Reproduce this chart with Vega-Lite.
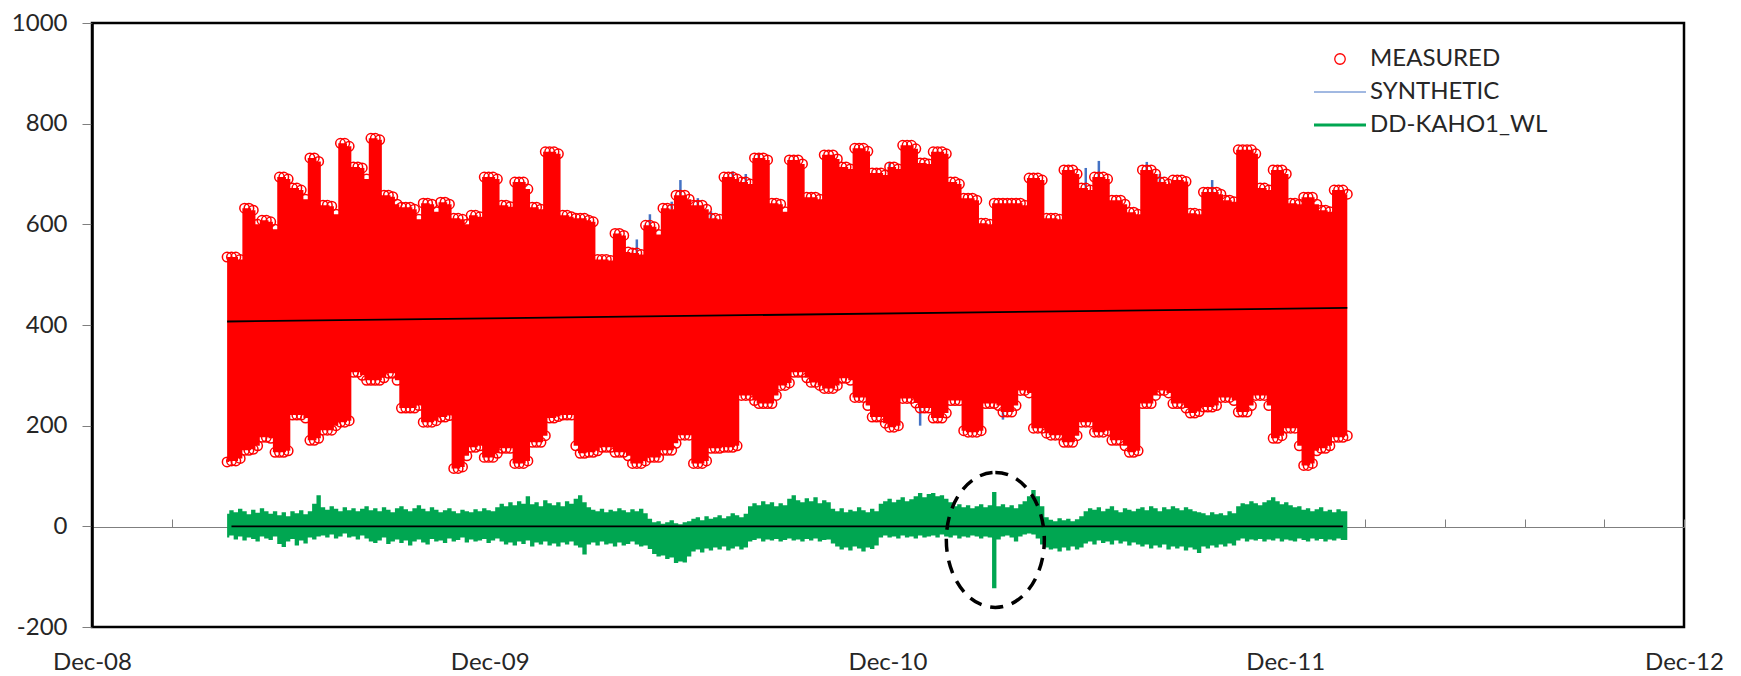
{
"$schema": "https://vega.github.io/schema/vega-lite/v6.json",
"width": 1592, "height": 604,
"autosize": {"type": "none"},
"padding": {"left": 92, "top": 23, "right": 57, "bottom": 49},
"background": "#ffffff",
"config": {"font": "Lato", "view": {"stroke": "#000000", "strokeWidth": 2.5}},
"datasets": {
"m": [
{"d":"2009-04-04","hi":535,"lo":128,"rh":25,"rl":-22},
{"d":"2009-04-08","hi":535,"lo":130,"rh":32,"rl":-18},
{"d":"2009-04-12","hi":535,"lo":130,"rh":28,"rl":-26},
{"d":"2009-04-16","hi":530,"lo":135,"rh":35,"rl":-20},
{"d":"2009-04-20","hi":632,"lo":151,"rh":30,"rl":-28},
{"d":"2009-04-24","hi":632,"lo":151,"rh":24,"rl":-22},
{"d":"2009-04-28","hi":628,"lo":153,"rh":33,"rl":-25},
{"d":"2009-05-02","hi":600,"lo":160,"rh":27,"rl":-30},
{"d":"2009-05-06","hi":608,"lo":177,"rh":36,"rl":-20},
{"d":"2009-05-10","hi":608,"lo":177,"rh":30,"rl":-24},
{"d":"2009-05-14","hi":605,"lo":175,"rh":25,"rl":-27},
{"d":"2009-05-18","hi":590,"lo":147,"rh":30,"rl":-20},
{"d":"2009-05-22","hi":694,"lo":147,"rh":22,"rl":-35},
{"d":"2009-05-26","hi":694,"lo":147,"rh":28,"rl":-41},
{"d":"2009-05-30","hi":690,"lo":150,"rh":20,"rl":-30},
{"d":"2009-06-03","hi":672,"lo":221,"rh":30,"rl":-25},
{"d":"2009-06-07","hi":672,"lo":221,"rh":26,"rl":-38},
{"d":"2009-06-11","hi":668,"lo":221,"rh":32,"rl":-28},
{"d":"2009-06-15","hi":650,"lo":215,"rh":24,"rl":-34},
{"d":"2009-06-19","hi":732,"lo":171,"rh":30,"rl":-22},
{"d":"2009-06-23","hi":732,"lo":171,"rh":45,"rl":-26},
{"d":"2009-06-27","hi":725,"lo":175,"rh":62,"rl":-20},
{"d":"2009-07-01","hi":638,"lo":191,"rh":38,"rl":-18},
{"d":"2009-07-05","hi":638,"lo":191,"rh":33,"rl":-22},
{"d":"2009-07-09","hi":636,"lo":191,"rh":40,"rl":-16},
{"d":"2009-07-13","hi":620,"lo":200,"rh":35,"rl":-24},
{"d":"2009-07-17","hi":761,"lo":207,"rh":30,"rl":-20},
{"d":"2009-07-21","hi":761,"lo":207,"rh":38,"rl":-14},
{"d":"2009-07-25","hi":755,"lo":210,"rh":32,"rl":-22},
{"d":"2009-07-29","hi":714,"lo":306,"rh":36,"rl":-20},
{"d":"2009-08-02","hi":714,"lo":306,"rh":30,"rl":-26},
{"d":"2009-08-06","hi":712,"lo":300,"rh":35,"rl":-18},
{"d":"2009-08-10","hi":690,"lo":290,"rh":40,"rl":-24},
{"d":"2009-08-14","hi":771,"lo":290,"rh":32,"rl":-30},
{"d":"2009-08-18","hi":771,"lo":290,"rh":36,"rl":-33},
{"d":"2009-08-22","hi":768,"lo":290,"rh":30,"rl":-28},
{"d":"2009-08-26","hi":658,"lo":295,"rh":38,"rl":-22},
{"d":"2009-08-30","hi":658,"lo":304,"rh":33,"rl":-35},
{"d":"2009-09-03","hi":655,"lo":304,"rh":28,"rl":-30},
{"d":"2009-09-07","hi":640,"lo":290,"rh":36,"rl":-26},
{"d":"2009-09-11","hi":634,"lo":235,"rh":40,"rl":-33},
{"d":"2009-09-15","hi":634,"lo":235,"rh":34,"rl":-28},
{"d":"2009-09-19","hi":634,"lo":235,"rh":30,"rl":-38},
{"d":"2009-09-23","hi":630,"lo":235,"rh":36,"rl":-30},
{"d":"2009-09-27","hi":610,"lo":240,"rh":42,"rl":-26},
{"d":"2009-10-01","hi":642,"lo":207,"rh":35,"rl":-32},
{"d":"2009-10-05","hi":642,"lo":207,"rh":30,"rl":-36},
{"d":"2009-10-09","hi":640,"lo":207,"rh":38,"rl":-25},
{"d":"2009-10-13","hi":625,"lo":210,"rh":33,"rl":-30},
{"d":"2009-10-17","hi":644,"lo":217,"rh":28,"rl":-28},
{"d":"2009-10-21","hi":644,"lo":217,"rh":32,"rl":-33},
{"d":"2009-10-25","hi":640,"lo":220,"rh":36,"rl":-24},
{"d":"2009-10-29","hi":612,"lo":115,"rh":30,"rl":-30},
{"d":"2009-11-02","hi":612,"lo":115,"rh":26,"rl":-27},
{"d":"2009-11-06","hi":610,"lo":118,"rh":33,"rl":-22},
{"d":"2009-11-10","hi":600,"lo":140,"rh":30,"rl":-32},
{"d":"2009-11-14","hi":618,"lo":157,"rh":28,"rl":-26},
{"d":"2009-11-18","hi":618,"lo":157,"rh":34,"rl":-30},
{"d":"2009-11-22","hi":615,"lo":160,"rh":30,"rl":-28},
{"d":"2009-11-26","hi":694,"lo":137,"rh":36,"rl":-25},
{"d":"2009-11-30","hi":694,"lo":137,"rh":32,"rl":-33},
{"d":"2009-12-04","hi":694,"lo":137,"rh":30,"rl":-28},
{"d":"2009-12-08","hi":690,"lo":145,"rh":38,"rl":-24},
{"d":"2009-12-12","hi":638,"lo":155,"rh":45,"rl":-30},
{"d":"2009-12-16","hi":638,"lo":155,"rh":40,"rl":-36},
{"d":"2009-12-20","hi":635,"lo":155,"rh":48,"rl":-32},
{"d":"2009-12-24","hi":684,"lo":125,"rh":42,"rl":-38},
{"d":"2009-12-28","hi":684,"lo":125,"rh":50,"rl":-30},
{"d":"2010-01-01","hi":684,"lo":125,"rh":45,"rl":-35},
{"d":"2010-01-05","hi":670,"lo":130,"rh":60,"rl":-28},
{"d":"2010-01-09","hi":634,"lo":167,"rh":44,"rl":-40},
{"d":"2010-01-13","hi":634,"lo":167,"rh":48,"rl":-32},
{"d":"2010-01-17","hi":630,"lo":167,"rh":40,"rl":-36},
{"d":"2010-01-21","hi":744,"lo":180,"rh":52,"rl":-30},
{"d":"2010-01-25","hi":744,"lo":215,"rh":46,"rl":-38},
{"d":"2010-01-29","hi":744,"lo":215,"rh":42,"rl":-34},
{"d":"2010-02-02","hi":740,"lo":218,"rh":48,"rl":-40},
{"d":"2010-02-06","hi":618,"lo":221,"rh":40,"rl":-32},
{"d":"2010-02-10","hi":618,"lo":221,"rh":50,"rl":-36},
{"d":"2010-02-14","hi":615,"lo":221,"rh":45,"rl":-30},
{"d":"2010-02-18","hi":612,"lo":160,"rh":55,"rl":-38},
{"d":"2010-02-22","hi":612,"lo":145,"rh":62,"rl":-42},
{"d":"2010-02-26","hi":612,"lo":145,"rh":48,"rl":-56},
{"d":"2010-03-02","hi":608,"lo":147,"rh":38,"rl":-36},
{"d":"2010-03-06","hi":605,"lo":147,"rh":33,"rl":-32},
{"d":"2010-03-10","hi":530,"lo":150,"rh":30,"rl":-38},
{"d":"2010-03-14","hi":530,"lo":157,"rh":35,"rl":-30},
{"d":"2010-03-18","hi":530,"lo":157,"rh":28,"rl":-36},
{"d":"2010-03-22","hi":528,"lo":157,"rh":33,"rl":-34},
{"d":"2010-03-26","hi":582,"lo":147,"rh":30,"rl":-40},
{"d":"2010-03-30","hi":582,"lo":147,"rh":36,"rl":-32},
{"d":"2010-04-03","hi":578,"lo":147,"rh":32,"rl":-38},
{"d":"2010-04-07","hi":545,"lo":140,"rh":28,"rl":-35},
{"d":"2010-04-11","hi":543,"lo":125,"rh":34,"rl":-30},
{"d":"2010-04-15","hi":543,"lo":125,"rh":30,"rl":-36},
{"d":"2010-04-19","hi":540,"lo":125,"rh":35,"rl":-40},
{"d":"2010-04-23","hi":598,"lo":130,"rh":26,"rl":-38},
{"d":"2010-04-27","hi":598,"lo":137,"rh":15,"rl":-45},
{"d":"2010-05-01","hi":595,"lo":137,"rh":8,"rl":-55},
{"d":"2010-05-05","hi":580,"lo":137,"rh":10,"rl":-60},
{"d":"2010-05-09","hi":632,"lo":151,"rh":5,"rl":-58},
{"d":"2010-05-13","hi":632,"lo":151,"rh":8,"rl":-65},
{"d":"2010-05-17","hi":630,"lo":151,"rh":12,"rl":-62},
{"d":"2010-05-21","hi":658,"lo":165,"rh":6,"rl":-73},
{"d":"2010-05-25","hi":658,"lo":181,"rh":4,"rl":-70},
{"d":"2010-05-29","hi":658,"lo":181,"rh":8,"rl":-72},
{"d":"2010-06-02","hi":650,"lo":181,"rh":10,"rl":-60},
{"d":"2010-06-06","hi":638,"lo":125,"rh":15,"rl":-50},
{"d":"2010-06-10","hi":638,"lo":125,"rh":18,"rl":-46},
{"d":"2010-06-14","hi":638,"lo":125,"rh":12,"rl":-52},
{"d":"2010-06-18","hi":630,"lo":130,"rh":20,"rl":-44},
{"d":"2010-06-22","hi":612,"lo":155,"rh":15,"rl":-48},
{"d":"2010-06-26","hi":612,"lo":155,"rh":18,"rl":-42},
{"d":"2010-06-30","hi":610,"lo":155,"rh":22,"rl":-46},
{"d":"2010-07-04","hi":694,"lo":157,"rh":16,"rl":-40},
{"d":"2010-07-08","hi":694,"lo":157,"rh":20,"rl":-48},
{"d":"2010-07-12","hi":694,"lo":157,"rh":26,"rl":-44},
{"d":"2010-07-16","hi":690,"lo":160,"rh":22,"rl":-40},
{"d":"2010-07-20","hi":684,"lo":260,"rh":18,"rl":-46},
{"d":"2010-07-24","hi":684,"lo":260,"rh":25,"rl":-42},
{"d":"2010-07-28","hi":680,"lo":260,"rh":40,"rl":-30},
{"d":"2010-08-01","hi":732,"lo":250,"rh":46,"rl":-27},
{"d":"2010-08-05","hi":732,"lo":244,"rh":42,"rl":-24},
{"d":"2010-08-09","hi":732,"lo":244,"rh":50,"rl":-30},
{"d":"2010-08-13","hi":728,"lo":244,"rh":44,"rl":-26},
{"d":"2010-08-17","hi":642,"lo":244,"rh":48,"rl":-28},
{"d":"2010-08-21","hi":642,"lo":260,"rh":40,"rl":-25},
{"d":"2010-08-25","hi":640,"lo":280,"rh":46,"rl":-30},
{"d":"2010-08-29","hi":625,"lo":280,"rh":42,"rl":-27},
{"d":"2010-09-02","hi":728,"lo":285,"rh":55,"rl":-24},
{"d":"2010-09-06","hi":728,"lo":306,"rh":62,"rl":-28},
{"d":"2010-09-10","hi":728,"lo":306,"rh":52,"rl":-26},
{"d":"2010-09-14","hi":720,"lo":306,"rh":48,"rl":-30},
{"d":"2010-09-18","hi":654,"lo":295,"rh":56,"rl":-25},
{"d":"2010-09-22","hi":654,"lo":286,"rh":50,"rl":-28},
{"d":"2010-09-26","hi":654,"lo":286,"rh":58,"rl":-24},
{"d":"2010-09-30","hi":650,"lo":280,"rh":46,"rl":-30},
{"d":"2010-10-04","hi":738,"lo":274,"rh":52,"rl":-27},
{"d":"2010-10-08","hi":738,"lo":274,"rh":48,"rl":-26},
{"d":"2010-10-12","hi":738,"lo":274,"rh":35,"rl":-34},
{"d":"2010-10-16","hi":730,"lo":280,"rh":30,"rl":-40},
{"d":"2010-10-20","hi":714,"lo":294,"rh":36,"rl":-46},
{"d":"2010-10-24","hi":714,"lo":294,"rh":28,"rl":-42},
{"d":"2010-10-28","hi":710,"lo":290,"rh":33,"rl":-48},
{"d":"2010-11-01","hi":751,"lo":256,"rh":30,"rl":-40},
{"d":"2010-11-05","hi":751,"lo":256,"rh":38,"rl":-44},
{"d":"2010-11-09","hi":751,"lo":256,"rh":32,"rl":-50},
{"d":"2010-11-13","hi":745,"lo":240,"rh":28,"rl":-42},
{"d":"2010-11-17","hi":702,"lo":217,"rh":35,"rl":-45},
{"d":"2010-11-21","hi":702,"lo":217,"rh":30,"rl":-38},
{"d":"2010-11-25","hi":702,"lo":217,"rh":45,"rl":-22},
{"d":"2010-11-29","hi":698,"lo":205,"rh":50,"rl":-18},
{"d":"2010-12-03","hi":714,"lo":197,"rh":55,"rl":-22},
{"d":"2010-12-07","hi":714,"lo":197,"rh":48,"rl":-20},
{"d":"2010-12-11","hi":710,"lo":200,"rh":53,"rl":-24},
{"d":"2010-12-15","hi":757,"lo":254,"rh":58,"rl":-18},
{"d":"2010-12-19","hi":757,"lo":254,"rh":50,"rl":-22},
{"d":"2010-12-23","hi":757,"lo":254,"rh":54,"rl":-20},
{"d":"2010-12-27","hi":750,"lo":245,"rh":60,"rl":-24},
{"d":"2010-12-31","hi":722,"lo":235,"rh":66,"rl":-18},
{"d":"2011-01-04","hi":722,"lo":235,"rh":58,"rl":-22},
{"d":"2011-01-08","hi":720,"lo":235,"rh":64,"rl":-20},
{"d":"2011-01-12","hi":744,"lo":215,"rh":66,"rl":-18},
{"d":"2011-01-16","hi":744,"lo":215,"rh":60,"rl":-22},
{"d":"2011-01-20","hi":744,"lo":215,"rh":62,"rl":-16},
{"d":"2011-01-24","hi":740,"lo":225,"rh":55,"rl":-20},
{"d":"2011-01-28","hi":684,"lo":250,"rh":48,"rl":-22},
{"d":"2011-02-01","hi":684,"lo":250,"rh":40,"rl":-18},
{"d":"2011-02-05","hi":680,"lo":250,"rh":44,"rl":-24},
{"d":"2011-02-09","hi":652,"lo":190,"rh":38,"rl":-20},
{"d":"2011-02-13","hi":652,"lo":187,"rh":42,"rl":-22},
{"d":"2011-02-17","hi":652,"lo":187,"rh":36,"rl":-18},
{"d":"2011-02-21","hi":648,"lo":187,"rh":40,"rl":-20},
{"d":"2011-02-25","hi":602,"lo":190,"rh":44,"rl":-24},
{"d":"2011-03-01","hi":602,"lo":244,"rh":38,"rl":-20},
{"d":"2011-03-05","hi":600,"lo":244,"rh":42,"rl":-22},
{"d":"2011-03-09","hi":642,"lo":244,"rh":68,"rl":-123},
{"d":"2011-03-13","hi":642,"lo":240,"rh":40,"rl":-26},
{"d":"2011-03-17","hi":642,"lo":227,"rh":44,"rl":-20},
{"d":"2011-03-21","hi":642,"lo":227,"rh":38,"rl":-18},
{"d":"2011-03-25","hi":642,"lo":227,"rh":42,"rl":-22},
{"d":"2011-03-29","hi":642,"lo":240,"rh":36,"rl":-30},
{"d":"2011-04-02","hi":642,"lo":270,"rh":44,"rl":-20},
{"d":"2011-04-06","hi":638,"lo":270,"rh":50,"rl":-16},
{"d":"2011-04-10","hi":692,"lo":265,"rh":60,"rl":-14},
{"d":"2011-04-14","hi":692,"lo":195,"rh":72,"rl":-16},
{"d":"2011-04-18","hi":692,"lo":195,"rh":60,"rl":-24},
{"d":"2011-04-22","hi":688,"lo":195,"rh":40,"rl":-36},
{"d":"2011-04-26","hi":612,"lo":185,"rh":18,"rl":-42},
{"d":"2011-04-30","hi":612,"lo":181,"rh":13,"rl":-46},
{"d":"2011-05-04","hi":612,"lo":181,"rh":10,"rl":-44},
{"d":"2011-05-08","hi":610,"lo":181,"rh":16,"rl":-50},
{"d":"2011-05-12","hi":708,"lo":167,"rh":12,"rl":-42},
{"d":"2011-05-16","hi":708,"lo":167,"rh":15,"rl":-48},
{"d":"2011-05-20","hi":708,"lo":167,"rh":10,"rl":-40},
{"d":"2011-05-24","hi":700,"lo":180,"rh":14,"rl":-46},
{"d":"2011-05-28","hi":672,"lo":207,"rh":20,"rl":-42},
{"d":"2011-06-01","hi":672,"lo":207,"rh":30,"rl":-34},
{"d":"2011-06-05","hi":668,"lo":207,"rh":36,"rl":-30},
{"d":"2011-06-09","hi":694,"lo":187,"rh":33,"rl":-36},
{"d":"2011-06-13","hi":694,"lo":187,"rh":38,"rl":-28},
{"d":"2011-06-17","hi":694,"lo":187,"rh":30,"rl":-33},
{"d":"2011-06-21","hi":690,"lo":190,"rh":35,"rl":-30},
{"d":"2011-06-25","hi":648,"lo":171,"rh":40,"rl":-36},
{"d":"2011-06-29","hi":648,"lo":171,"rh":32,"rl":-28},
{"d":"2011-07-03","hi":648,"lo":171,"rh":28,"rl":-34},
{"d":"2011-07-07","hi":640,"lo":160,"rh":36,"rl":-30},
{"d":"2011-07-11","hi":624,"lo":147,"rh":33,"rl":-38},
{"d":"2011-07-15","hi":624,"lo":147,"rh":30,"rl":-32},
{"d":"2011-07-19","hi":620,"lo":150,"rh":35,"rl":-36},
{"d":"2011-07-23","hi":708,"lo":244,"rh":38,"rl":-40},
{"d":"2011-07-27","hi":708,"lo":244,"rh":32,"rl":-36},
{"d":"2011-07-31","hi":708,"lo":244,"rh":40,"rl":-44},
{"d":"2011-08-04","hi":700,"lo":260,"rh":36,"rl":-38},
{"d":"2011-08-08","hi":684,"lo":270,"rh":30,"rl":-42},
{"d":"2011-08-12","hi":684,"lo":270,"rh":38,"rl":-36},
{"d":"2011-08-16","hi":680,"lo":265,"rh":34,"rl":-46},
{"d":"2011-08-20","hi":688,"lo":244,"rh":40,"rl":-40},
{"d":"2011-08-24","hi":688,"lo":244,"rh":36,"rl":-44},
{"d":"2011-08-28","hi":688,"lo":244,"rh":32,"rl":-40},
{"d":"2011-09-01","hi":685,"lo":235,"rh":38,"rl":-48},
{"d":"2011-09-05","hi":622,"lo":225,"rh":34,"rl":-42},
{"d":"2011-09-09","hi":622,"lo":225,"rh":30,"rl":-46},
{"d":"2011-09-13","hi":620,"lo":228,"rh":28,"rl":-53},
{"d":"2011-09-17","hi":664,"lo":237,"rh":26,"rl":-40},
{"d":"2011-09-21","hi":664,"lo":237,"rh":22,"rl":-44},
{"d":"2011-09-25","hi":664,"lo":237,"rh":28,"rl":-38},
{"d":"2011-09-29","hi":664,"lo":240,"rh":24,"rl":-42},
{"d":"2011-10-03","hi":660,"lo":256,"rh":26,"rl":-36},
{"d":"2011-10-07","hi":648,"lo":256,"rh":22,"rl":-40},
{"d":"2011-10-11","hi":648,"lo":256,"rh":30,"rl":-34},
{"d":"2011-10-15","hi":645,"lo":250,"rh":26,"rl":-38},
{"d":"2011-10-19","hi":748,"lo":227,"rh":40,"rl":-28},
{"d":"2011-10-23","hi":748,"lo":227,"rh":46,"rl":-24},
{"d":"2011-10-27","hi":748,"lo":227,"rh":44,"rl":-30},
{"d":"2011-10-31","hi":748,"lo":240,"rh":50,"rl":-26},
{"d":"2011-11-04","hi":740,"lo":260,"rh":46,"rl":-28},
{"d":"2011-11-08","hi":672,"lo":260,"rh":42,"rl":-25},
{"d":"2011-11-12","hi":672,"lo":260,"rh":48,"rl":-30},
{"d":"2011-11-16","hi":668,"lo":240,"rh":52,"rl":-26},
{"d":"2011-11-20","hi":708,"lo":175,"rh":58,"rl":-28},
{"d":"2011-11-24","hi":708,"lo":175,"rh":50,"rl":-24},
{"d":"2011-11-28","hi":708,"lo":180,"rh":44,"rl":-30},
{"d":"2011-12-02","hi":700,"lo":195,"rh":48,"rl":-26},
{"d":"2011-12-06","hi":642,"lo":195,"rh":42,"rl":-28},
{"d":"2011-12-10","hi":642,"lo":195,"rh":38,"rl":-30},
{"d":"2011-12-14","hi":640,"lo":160,"rh":40,"rl":-24},
{"d":"2011-12-18","hi":654,"lo":121,"rh":33,"rl":-27},
{"d":"2011-12-22","hi":654,"lo":121,"rh":36,"rl":-30},
{"d":"2011-12-26","hi":654,"lo":125,"rh":30,"rl":-24},
{"d":"2011-12-30","hi":640,"lo":150,"rh":34,"rl":-28},
{"d":"2012-01-03","hi":628,"lo":155,"rh":38,"rl":-25},
{"d":"2012-01-07","hi":628,"lo":155,"rh":30,"rl":-30},
{"d":"2012-01-11","hi":625,"lo":160,"rh":33,"rl":-26},
{"d":"2012-01-15","hi":668,"lo":177,"rh":28,"rl":-28},
{"d":"2012-01-19","hi":668,"lo":177,"rh":34,"rl":-24},
{"d":"2012-01-23","hi":668,"lo":177,"rh":30,"rl":-27},
{"d":"2012-01-27","hi":660,"lo":180,"rh":30,"rl":-27}
],
"syn": [
{"d":"2010-04-15","a":543,"b":570},
{"d":"2010-04-27","a":598,"b":620},
{"d":"2010-05-17","a":630,"b":645},
{"d":"2010-05-25","a":658,"b":688},
{"d":"2010-06-10","a":638,"b":652},
{"d":"2010-06-22","a":612,"b":626},
{"d":"2010-07-12","a":694,"b":705},
{"d":"2010-07-24","a":684,"b":700},
{"d":"2010-08-05","a":732,"b":740},
{"d":"2010-12-03","a":714,"b":722},
{"d":"2011-06-01","a":672,"b":712},
{"d":"2011-06-13","a":694,"b":726},
{"d":"2011-07-27","a":708,"b":724},
{"d":"2011-08-08","a":684,"b":700},
{"d":"2011-09-25","a":664,"b":688},
{"d":"2010-12-31","a":235,"b":200},
{"d":"2011-03-17","a":227,"b":212}
],
"trend": [
{"d":"2009-04-04","v":407,"s":"m"},
{"d":"2012-01-27","v":434,"s":"m"},
{"d":"2009-04-08","v":0,"s":"r"},
{"d":"2012-01-23","v":0,"s":"r"}
],
"note": [{"d":"2011-03-10","v":-27}]
},
"resolve": {"axis": {"x": "independent", "y": "independent"}},
"layer": [
{
"data": {"name": "syn"},
"mark": {"type": "rule", "strokeWidth": 2.5},
"encoding": {
"x": {"field": "d", "type": "temporal", "scale": {"type": "utc", "domain": [{"year":2008,"month":12,"date":1,"utc":true},{"year":2012,"month":12,"date":1,"utc":true}]}, "axis": null},
"y": {"field": "a", "type": "quantitative", "scale": {"domain": [-200, 1000], "nice": false}, "axis": null},
"y2": {"field": "b"},
"color": {"datum": "SYNTHETIC", "type": "nominal", "scale": {"domain": ["MEASURED","SYNTHETIC","DD-KAHO1_WL"], "range": ["#ff0000","#4472c4","#00a651"]},
"legend": {"orient": "none", "legendX": 1236, "legendY": 24, "title": null, "direction": "vertical", "symbolType": "stroke", "symbolSize": 64, "labelFont": "Lato", "labelFontSize": 24, "labelColor": "#262626", "labelOffset": 18, "labelLimit": 400, "rowPadding": 9, "padding": 0,
"encode": {"symbols": {"update": {
"shape": {"signal": "datum.value === 'MEASURED' ? 'circle' : 'stroke'"},
"size": {"signal": "datum.value === 'MEASURED' ? 110 : 2704"},
"strokeWidth": {"signal": "datum.value === 'MEASURED' ? 1.3 : (datum.value === 'SYNTHETIC' ? 1 : 3)"},
"fill": {"value": "#ffffff"},
"fillOpacity": {"value": 0},
"stroke": {"signal": "datum.value === 'MEASURED' ? '#c0392b' : (datum.value === 'SYNTHETIC' ? '#4a5aa8' : '#00a651')"},
"opacity": {"value": 1}}}}}}
}
},
{
"data": {"name": "m"},
"mark": {"type": "area", "interpolate": "step", "opacity": 1},
"encoding": {
"x": {"field": "d", "type": "temporal", "scale": {"type": "utc", "domain": [{"year":2008,"month":12,"date":1,"utc":true},{"year":2012,"month":12,"date":1,"utc":true}]},
"axis": {"orient": "bottom", "title": null, "values": [{"year":2008,"month":12,"date":1,"utc":true},{"year":2009,"month":12,"date":1,"utc":true},{"year":2010,"month":12,"date":1,"utc":true},{"year":2011,"month":12,"date":1,"utc":true},{"year":2012,"month":12,"date":1,"utc":true}],
"format": "%b-%y", "labelFont": "Lato", "labelFontSize": 24, "labelColor": "#262626", "domain": false, "ticks": false, "tickSize": 0, "labelPadding": 23, "grid": false, "labelFlush": false, "labelOverlap": false}},
"y": {"field": "lo", "type": "quantitative", "scale": {"domain": [-200, 1000], "nice": false},
"axis": {"orient": "left", "title": null, "values": [-200,0,200,400,600,800,1000], "labelExpr": "datum.value + ''", "labelFont": "Lato", "labelFontSize": 24, "labelColor": "#262626", "domainColor": "#000000", "domainWidth": 2.5, "tickColor": "#7f7f7f", "tickSize": 10, "labelPadding": 15, "grid": false}},
"y2": {"field": "hi"},
"color": {"datum": "MEASURED", "type": "nominal", "scale": {"domain": ["MEASURED","SYNTHETIC","DD-KAHO1_WL"], "range": ["#ff0000","#4472c4","#00a651"]},
"legend": {"orient": "none", "legendX": 1236, "legendY": 24, "title": null, "direction": "vertical", "symbolType": "stroke", "symbolSize": 64, "labelFont": "Lato", "labelFontSize": 24, "labelColor": "#262626", "labelOffset": 18, "labelLimit": 400, "rowPadding": 9, "padding": 0,
"encode": {"symbols": {"update": {
"shape": {"signal": "datum.value === 'MEASURED' ? 'circle' : 'stroke'"},
"size": {"signal": "datum.value === 'MEASURED' ? 110 : 2704"},
"strokeWidth": {"signal": "datum.value === 'MEASURED' ? 1.3 : (datum.value === 'SYNTHETIC' ? 1 : 3)"},
"fill": {"value": "#ffffff"},
"fillOpacity": {"value": 0},
"stroke": {"signal": "datum.value === 'MEASURED' ? '#c0392b' : (datum.value === 'SYNTHETIC' ? '#4a5aa8' : '#00a651')"},
"opacity": {"value": 1}}}}}}
}
},
{
"data": {"name": "m"},
"transform": [{"fold": ["hi", "lo"], "as": ["k", "v"]}],
"mark": {"type": "point", "filled": false, "size": 90, "strokeWidth": 1.5, "opacity": 1},
"encoding": {
"x": {"field": "d", "type": "temporal", "scale": {"type": "utc", "domain": [{"year":2008,"month":12,"date":1,"utc":true},{"year":2012,"month":12,"date":1,"utc":true}]}, "axis": null},
"y": {"field": "v", "type": "quantitative", "scale": {"domain": [-200, 1000], "nice": false}, "axis": null},
"color": {"datum": "MEASURED", "type": "nominal", "scale": {"domain": ["MEASURED","SYNTHETIC","DD-KAHO1_WL"], "range": ["#ff0000","#4472c4","#00a651"]},
"legend": {"orient": "none", "legendX": 1236, "legendY": 24, "title": null, "direction": "vertical", "symbolType": "stroke", "symbolSize": 64, "labelFont": "Lato", "labelFontSize": 24, "labelColor": "#262626", "labelOffset": 18, "labelLimit": 400, "rowPadding": 9, "padding": 0,
"encode": {"symbols": {"update": {
"shape": {"signal": "datum.value === 'MEASURED' ? 'circle' : 'stroke'"},
"size": {"signal": "datum.value === 'MEASURED' ? 110 : 2704"},
"strokeWidth": {"signal": "datum.value === 'MEASURED' ? 1.3 : (datum.value === 'SYNTHETIC' ? 1 : 3)"},
"fill": {"value": "#ffffff"},
"fillOpacity": {"value": 0},
"stroke": {"signal": "datum.value === 'MEASURED' ? '#c0392b' : (datum.value === 'SYNTHETIC' ? '#4a5aa8' : '#00a651')"},
"opacity": {"value": 1}}}}}}
}
},
{
"data": {"name": "m"},
"mark": {"type": "area", "interpolate": "step", "opacity": 1},
"encoding": {
"x": {"field": "d", "type": "temporal", "scale": {"type": "utc", "domain": [{"year":2008,"month":12,"date":1,"utc":true},{"year":2012,"month":12,"date":1,"utc":true}]}, "axis": null},
"y": {"field": "rl", "type": "quantitative", "scale": {"domain": [-200, 1000], "nice": false}, "axis": null},
"y2": {"field": "rh"},
"color": {"datum": "DD-KAHO1_WL", "type": "nominal", "scale": {"domain": ["MEASURED","SYNTHETIC","DD-KAHO1_WL"], "range": ["#ff0000","#4472c4","#00a651"]},
"legend": {"orient": "none", "legendX": 1236, "legendY": 24, "title": null, "direction": "vertical", "symbolType": "stroke", "symbolSize": 64, "labelFont": "Lato", "labelFontSize": 24, "labelColor": "#262626", "labelOffset": 18, "labelLimit": 400, "rowPadding": 9, "padding": 0,
"encode": {"symbols": {"update": {
"shape": {"signal": "datum.value === 'MEASURED' ? 'circle' : 'stroke'"},
"size": {"signal": "datum.value === 'MEASURED' ? 110 : 2704"},
"strokeWidth": {"signal": "datum.value === 'MEASURED' ? 1.3 : (datum.value === 'SYNTHETIC' ? 1 : 3)"},
"fill": {"value": "#ffffff"},
"fillOpacity": {"value": 0},
"stroke": {"signal": "datum.value === 'MEASURED' ? '#c0392b' : (datum.value === 'SYNTHETIC' ? '#4a5aa8' : '#00a651')"},
"opacity": {"value": 1}}}}}}
}
},
{
"data": {"name": "trend"},
"mark": {"type": "line", "color": "#000000", "strokeWidth": 1.8},
"encoding": {
"x": {"field": "d", "type": "temporal", "scale": {"type": "utc", "domain": [{"year":2008,"month":12,"date":1,"utc":true},{"year":2012,"month":12,"date":1,"utc":true}]},
"axis": {"orient": "top", "offset": -504, "title": null, "labels": false, "grid": false, "domain": true, "domainColor": "#7f7f7f", "domainWidth": 1.2, "ticks": true, "tickColor": "#7f7f7f", "tickSize": 8, "tickWidth": 1,
"values": [{"year":2008,"month":12,"date":1,"utc":true},{"year":2009,"month":2,"date":12,"utc":true},{"year":2009,"month":4,"date":26,"utc":true},{"year":2009,"month":7,"date":8,"utc":true},{"year":2009,"month":9,"date":19,"utc":true},
{"year":2009,"month":12,"date":1,"utc":true},{"year":2010,"month":2,"date":12,"utc":true},{"year":2010,"month":4,"date":26,"utc":true},{"year":2010,"month":7,"date":8,"utc":true},{"year":2010,"month":9,"date":19,"utc":true},
{"year":2010,"month":12,"date":1,"utc":true},{"year":2011,"month":2,"date":12,"utc":true},{"year":2011,"month":4,"date":26,"utc":true},{"year":2011,"month":7,"date":8,"utc":true},{"year":2011,"month":9,"date":19,"utc":true},
{"year":2011,"month":12,"date":1,"utc":true},{"year":2012,"month":2,"date":12,"utc":true},{"year":2012,"month":4,"date":26,"utc":true},{"year":2012,"month":7,"date":8,"utc":true},{"year":2012,"month":9,"date":19,"utc":true},{"year":2012,"month":12,"date":1,"utc":true}]}},
"y": {"field": "v", "type": "quantitative", "scale": {"domain": [-200, 1000], "nice": false}, "axis": null},
"detail": {"field": "s"}
}
},
{
"data": {"name": "note"},
"mark": {"type": "point", "shape": "M0,-1 C0.401,-1 0.726,-0.552 0.726,0 C0.726,0.552 0.401,1 0,1 C-0.401,1 -0.726,0.552 -0.726,0 C-0.726,-0.552 -0.401,-1 0,-1 Z", "size": 18225, "filled": false, "stroke": "#000000", "strokeWidth": 3.5, "strokeDash": [13, 9], "opacity": 1},
"encoding": {
"x": {"field": "d", "type": "temporal", "scale": {"type": "utc", "domain": [{"year":2008,"month":12,"date":1,"utc":true},{"year":2012,"month":12,"date":1,"utc":true}]}, "axis": null},
"y": {"field": "v", "type": "quantitative", "scale": {"domain": [-200, 1000], "nice": false}, "axis": null}
}
}
]
}
